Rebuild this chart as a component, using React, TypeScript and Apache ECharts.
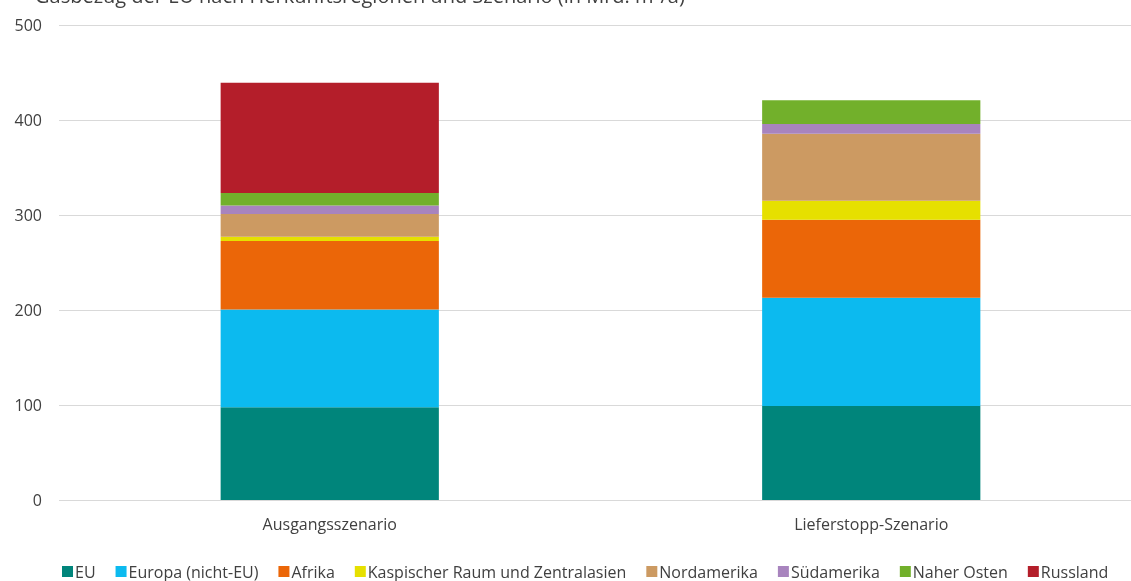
import React, { useEffect, useRef } from "react";
import * as echarts from "echarts";

const categories = ["Ausgangsszenario", "Lieferstopp-Szenario"];
const seriesNames = [
  "EU",
  "Europa (nicht-EU)",
  "Afrika",
  "Kaspischer Raum und Zentralasien",
  "Nordamerika",
  "Südamerika",
  "Naher Osten",
  "Russland",
];
const euValues = [97.6, 98.9];
const europaValues = [103, 114];
const afrikaValues = [72, 82];
const kaspischValues = [4.5, 20];
const nordamerikaValues = [24, 70.5];
const suedamerikaValues = [9, 10.5];
const naherOstenValues = [13, 25];
const russlandValues = [116, 0];
const colors = ["#00857B", "#0CBAEF", "#EB6608", "#E6E000", "#CC9A62", "#A884BE", "#72B02B", "#B41E2A"];
const yTicks = [0, 100, 200, 300, 400, 500];
const titleText = "Gasbezug der EU nach Herkunftsregionen und Szenario (in Mrd. m³/a)";

export default function App() {
  const ref = useRef<HTMLDivElement>(null);
  useEffect(() => {
    if (!ref.current) return;
    const chart = echarts.init(ref.current, undefined, { renderer: "svg" });
    const allValues = [euValues, europaValues, afrikaValues, kaspischValues, nordamerikaValues, suedamerikaValues, naherOstenValues, russlandValues];
    const font = "'Open Sans', 'Noto Sans', sans-serif";
    chart.setOption({
      animation: false,
      textStyle: { fontFamily: font },
      title: {
        text: titleText,
        left: 30,
        top: -20,
        textStyle: { fontSize: 20, fontWeight: "normal", color: "#404040", fontFamily: font },
      },
      grid: { left: 59, right: -11, top: 25, bottom: 81, containLabel: false, outerBoundsMode: "none" },
      legend: {
        top: 563,
        left: 62,
        padding: 0,
        itemWidth: 11,
        itemHeight: 11,
        itemGap: 20,
        icon: "rect",
        textStyle: { fontSize: 16, lineHeight: 17, color: "#404040", fontFamily: font, padding: [0, 0, 0, -3] },
        data: seriesNames,
      },
      xAxis: {
        type: "category",
        data: categories,
        axisLine: { show: false },
        axisTick: { show: false },
        axisLabel: { fontSize: 16, color: "#404040", margin: 16 },
      },
      yAxis: {
        type: "value",
        min: yTicks[0],
        max: yTicks[yTicks.length - 1],
        interval: 100,
        axisLine: { show: false },
        axisTick: { show: false },
        axisLabel: { fontSize: 16, color: "#404040", margin: 17 },
        splitLine: { lineStyle: { color: "#D9D9D9", width: 1 } },
      },
      series: seriesNames.map((name, i) => ({
        name,
        type: "bar",
        stack: "total",
        barWidth: "40.3%",
        data: allValues[i],
        itemStyle: { color: colors[i] },
      })),
    });
    return () => chart.dispose();
  }, []);
  return <div ref={ref} style={{ position: "fixed", left: 0, top: 0, width: 1131, height: 581 }} />;
}
